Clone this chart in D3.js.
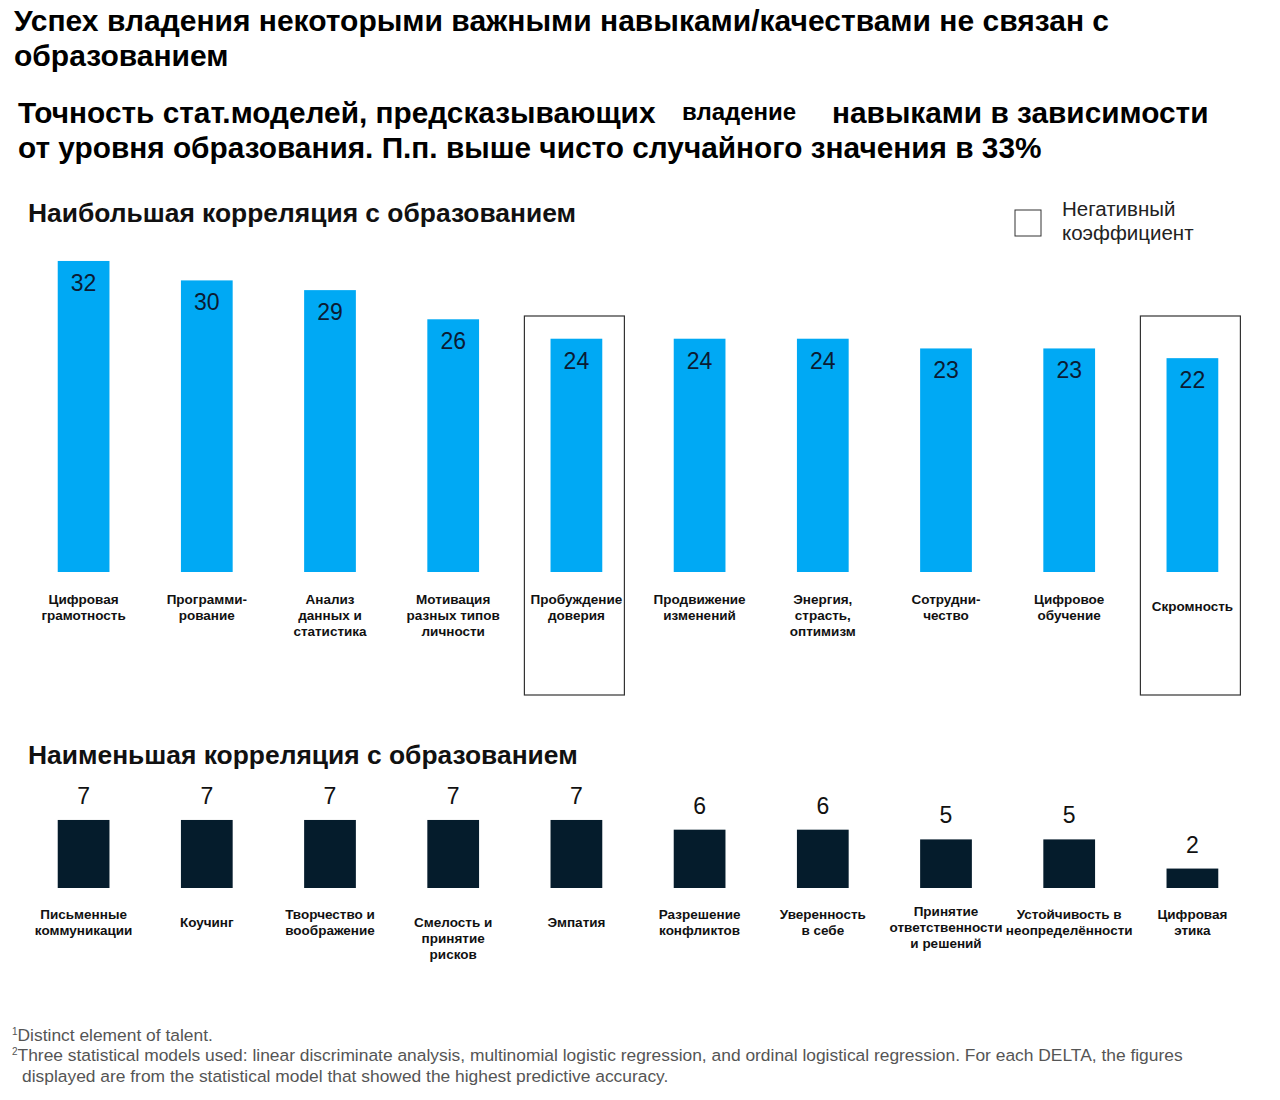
<!DOCTYPE html>
<html><head><meta charset="utf-8">
<script src="https://cdn.jsdelivr.net/npm/d3@7"></script>
<style>body{margin:0;background:#fff;font-family:"Liberation Sans",Arial,sans-serif}</style>
</head><body><div id="chart"></div>
<script>
// data
var topLabels = [["Цифровая","грамотность"],["Программи-","рование"],["Анализ","данных и","статистика"],["Мотивация","разных типов","личности"],["Пробуждение","доверия"],["Продвижение","изменений"],["Энергия,","страсть,","оптимизм"],["Сотрудни-","чество"],["Цифровое","обучение"],["Скромность"]];
var topValues = [32, 30, 29, 26, 24, 24, 24, 23, 23, 22];
var topNegative = [false, false, false, false, true, false, false, false, false, true];
var bottomLabels = [["Письменные","коммуникации"],["Коучинг"],["Творчество и","воображение"],["Смелость и","принятие","рисков"],["Эмпатия"],["Разрешение","конфликтов"],["Уверенность","в себе"],["Принятие","ответственности","и решений"],["Устойчивость в","неопределённости"],["Цифровая","этика"]];
var bottomValues = [7, 7, 7, 7, 7, 6, 6, 5, 5, 2];

var W = 1280, H = 1100;
var svg = d3.select("#chart").append("svg").attr("width", W).attr("height", H);

// titles
svg.append("text").attr("x", 14).attr("y", 31).attr("font-size", 30).attr("font-weight", "bold").text("Успех владения некоторыми важными навыками/качествами не связан с");
svg.append("text").attr("x", 14).attr("y", 66).attr("font-size", 30).attr("font-weight", "bold").text("образованием");
svg.append("text").attr("x", 18).attr("y", 123).attr("font-size", 29.8).attr("font-weight", "bold").text("Точность стат.моделей, предсказывающих");
svg.append("text").attr("x", 682).attr("y", 120).attr("font-size", 24).attr("font-weight", "bold").text("владение");
svg.append("text").attr("x", 832).attr("y", 123).attr("font-size", 29.8).attr("font-weight", "bold").text("навыками в зависимости");
svg.append("text").attr("x", 18).attr("y", 158).attr("font-size", 29.8).attr("font-weight", "bold").text("от уровня образования. П.п. выше чисто случайного значения в 33%");

svg.append("text").attr("x", 28).attr("y", 222).attr("font-size", 26.4).attr("font-weight", "bold").attr("fill", "#111").text("Наибольшая корреляция с образованием");
svg.append("text").attr("x", 28).attr("y", 764).attr("font-size", 26.4).attr("font-weight", "bold").attr("fill", "#111").text("Наименьшая корреляция с образованием");

// legend
svg.append("rect").attr("x", 1015).attr("y", 210).attr("width", 26).attr("height", 26).attr("fill", "none").attr("stroke", "#333");
svg.append("text").attr("x", 1062).attr("y", 216).attr("font-size", 20.5).attr("fill", "#222").text("Негативный");
svg.append("text").attr("x", 1062).attr("y", 240).attr("font-size", 20.5).attr("fill", "#222").text("коэффициент");

// scales
var x = d3.scaleBand().domain(d3.range(10)).range([22, 1254]).paddingInner(0.58).paddingOuter(0.29);
var k = 9.72; // px per point
var yTop = d3.scaleLinear().domain([0, 32]).range([572, 572 - 32 * k]);
var yBot = d3.scaleLinear().domain([0, 7]).range([888, 888 - 7 * k]);

// negative-coefficient boxes
svg.selectAll(".neg").data(d3.range(10).filter(function(i){ return topNegative[i]; })).enter()
  .append("rect").attr("x", function(i){ return x(i) + x.bandwidth() / 2 - 52; })
  .attr("y", 316).attr("width", 100).attr("height", 379)
  .attr("fill", "none").attr("stroke", "#333").attr("stroke-width", 1.2);

// top bars
svg.selectAll(".tb").data(topValues).enter().append("rect")
  .attr("x", function(d, i){ return x(i); }).attr("width", x.bandwidth())
  .attr("y", function(d){ return yTop(d); }).attr("height", function(d){ return yTop(0) - yTop(d); })
  .attr("fill", "#00a9f4");
svg.selectAll(".tv").data(topValues).enter().append("text")
  .attr("x", function(d, i){ return x(i) + x.bandwidth() / 2; })
  .attr("y", function(d){ return yTop(d) + 30; })
  .attr("text-anchor", "middle").attr("font-size", 23).attr("fill", "#0b1b33").text(function(d){ return d; });

topLabels.forEach(function(lines, i){
  var t = svg.append("text").attr("text-anchor", "middle").attr("font-size", 13.5).attr("font-weight", "bold").attr("fill", "#111");
  var y0 = lines.length === 1 ? 611 : 604;
  lines.forEach(function(l, j){
    t.append("tspan").attr("x", x(i) + x.bandwidth() / 2).attr("y", y0 + j * 16).text(l);
  });
});

// bottom bars
svg.selectAll(".bb").data(bottomValues).enter().append("rect")
  .attr("x", function(d, i){ return x(i); }).attr("width", x.bandwidth())
  .attr("y", function(d){ return yBot(d); }).attr("height", function(d){ return yBot(0) - yBot(d); })
  .attr("fill", "#051c2c");
svg.selectAll(".bv").data(bottomValues).enter().append("text")
  .attr("x", function(d, i){ return x(i) + x.bandwidth() / 2; })
  .attr("y", function(d){ return yBot(d) - 16; })
  .attr("text-anchor", "middle").attr("font-size", 23).attr("fill", "#111").text(function(d){ return d; });

bottomLabels.forEach(function(lines, i){
  var t = svg.append("text").attr("text-anchor", "middle").attr("font-size", 13.5).attr("font-weight", "bold").attr("fill", "#111");
  var y0 = lines.length === 3 ? 916 : (lines.length === 2 ? 919 : 927);
  if (i === 3) y0 = 927;
  lines.forEach(function(l, j){
    t.append("tspan").attr("x", x(i) + x.bandwidth() / 2).attr("y", y0 + j * 16).text(l);
  });
});

// footnotes
var fn = svg.append("g").attr("font-size", 17.4).attr("fill", "#555");
var f1 = fn.append("text").attr("x", 12).attr("y", 1041);
f1.append("tspan").attr("font-size", 10).attr("dy", -6).text("1");
f1.append("tspan").attr("dy", 6).text("Distinct element of talent.");
var f2 = fn.append("text").attr("x", 12).attr("y", 1061);
f2.append("tspan").attr("font-size", 10).attr("dy", -6).text("2");
f2.append("tspan").attr("dy", 6).text("Three statistical models used: linear discriminate analysis, multinomial logistic regression, and ordinal logistical regression. For each DELTA, the figures");
fn.append("text").attr("x", 22).attr("y", 1082).text("displayed are from the statistical model that showed the highest predictive accuracy.");
</script></body></html>
